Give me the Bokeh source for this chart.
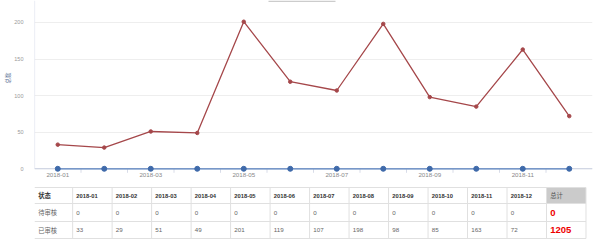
import math
from bokeh.plotting import figure
from bokeh.models import Range1d, FixedTicker, BoxAnnotation, Title
from bokeh.layouts import column
from bokeh.core.properties import value
from bokeh.embed import file_html
from bokeh.resources import INLINE

# ---------------- data ----------------
months = ["2018-01", "2018-02", "2018-03", "2018-04", "2018-05", "2018-06",
          "2018-07", "2018-08", "2018-09", "2018-10", "2018-11", "2018-12"]
pending = [0, 0, 0, 0, 0, 0, 0, 0, 0, 0, 0, 0]          # 待审核
approved = [33, 29, 51, 49, 201, 119, 107, 198, 98, 85, 163, 72]  # 已审核
y_ticks = [0, 50, 100, 150, 200]
status_header = "状态"
total_header = "总计"
row_names = ["待审核", "已审核"]
y_title = "总数"

CJK = "Noto Sans CJK SC"
LAT = "Liberation Sans"

# ---------------- chart ----------------
Y_MAX = 230
Y_MIN = -24.2   # room below the zero line for the category labels
idx = list(range(len(months)))
p = figure(width=600, height=186, x_range=Range1d(-0.5, len(months) - 0.5),
           y_range=Range1d(Y_MIN, Y_MAX), output_backend="svg", toolbar_location=None,
           min_border_left=34, min_border_right=8, min_border_top=0, min_border_bottom=0,
           x_axis_type=None)
p.outline_line_color = None
p.background_fill_color = "white"
p.border_fill_color = "white"

p.xgrid.visible = False
p.ygrid.ticker = FixedTicker(ticks=y_ticks)
p.ygrid.grid_line_color = "#eeeeee"
p.ygrid.grid_line_width = 1

p.yaxis.ticker = FixedTicker(ticks=y_ticks)
p.yaxis.axis_line_color = None
p.yaxis.major_tick_line_color = None
p.yaxis.minor_tick_line_color = None
p.yaxis.major_label_text_color = "#999999"
p.yaxis.major_label_text_font = LAT
p.yaxis.major_label_text_font_size = "5.5px"
p.yaxis.major_label_standoff = 5

p.add_layout(Title(text=y_title, align="left", offset=103, text_font=CJK,
                   text_font_size="5.5px", text_font_style="normal",
                   text_color="#5a6f94", standoff=0), "left")

x0 = -0.5
x1 = len(months) - 0.5
# y axis line (from zero to top)
p.segment(x0=[x0], x1=[x0], y0=[0], y1=[Y_MAX], line_color="#dde1ee", line_width=1.2)
# category axis: line, boundary ticks, labels
p.segment(x0=[x0], x1=[x1], y0=[0], y1=[0], line_color="#c8cfe0", line_width=1)
bounds = [i + 0.5 for i in idx[:-1]]
p.ray(x=bounds, y=[0] * len(bounds), length=4, length_units="screen",
      angle=-math.pi / 2, line_color="#d8dce8", line_width=1)
label_pos = idx[::2]
p.text(x=label_pos, y=[0] * len(label_pos), text=[months[i] for i in label_pos],
       y_offset=4, text_align="center", text_baseline="top",
       text_font=value(LAT), text_font_size=value("6.2px"), text_color="#888888")

red = "#a5474a"
blue = "#3f6aaa"
p.line(idx, pending, line_color="#5b83bf", line_width=1.3)
p.scatter(idx, pending, size=5, fill_color=blue, line_color=blue)
p.line(idx, approved, line_color=red, line_width=1.3)
p.scatter(idx, approved, size=3.5, fill_color=red, line_color=red)

p.add_layout(BoxAnnotation(left=234, right=301, top=186, bottom=184.5,
                           left_units="screen", right_units="screen",
                           top_units="screen", bottom_units="screen",
                           fill_color="#cccccc", fill_alpha=1, line_color=None))

# ---------------- table ----------------
t = figure(width=600, height=62, x_range=Range1d(0, 600), y_range=Range1d(62, 0),
           output_backend="svg", toolbar_location=None, x_axis_type=None, y_axis_type=None,
           min_border=0)
t.outline_line_color = None
t.grid.visible = False

first_w = 41
col_w = (593 - first_w) / (len(months) + 1)
edges = [0, first_w] + [first_w + col_w * (k + 1) for k in range(len(months) + 1)]
row_edges = [1, 17, 35, 52]
row_mid = [(row_edges[i] + row_edges[i + 1]) / 2 for i in range(3)]

t.quad(left=[edges[-2]], right=[edges[-1]], top=[row_edges[0]], bottom=[row_edges[1]],
       fill_color="#cbcbcb", line_color=None)
border = "#e0e0e0"
t.segment(x0=[edges[0]] * 4, x1=[edges[-1]] * 4, y0=row_edges, y1=row_edges,
          line_color=border, line_width=1)
t.segment(x0=edges[1:], x1=edges[1:], y0=[row_edges[0]] * (len(edges) - 1),
          y1=[row_edges[-1]] * (len(edges) - 1), line_color=border, line_width=1)

pad = 4
cell_x = [edges[i + 1] + pad for i in range(len(months))]
total_x = edges[-2] + pad

# header
t.text(x=[pad], y=[row_mid[0]], text=[status_header], text_font=value(CJK),
       text_font_size=value("6.3px"), text_font_style="bold", text_color="#333333",
       text_baseline="middle", text_align="left")
t.text(x=cell_x, y=[row_mid[0]] * len(months), text=months, text_font=value(LAT),
       text_font_size=value("5.8px"), text_font_style="bold", text_color="#333333",
       text_baseline="middle", text_align="left")
t.text(x=[total_x], y=[row_mid[0]], text=[total_header], text_font=value(CJK),
       text_font_size=value("6.3px"), text_color="#555555",
       text_baseline="middle", text_align="left")

# body rows
for r, (name, vals) in enumerate(zip(row_names, [pending, approved])):
    y = row_mid[r + 1]
    t.text(x=[pad], y=[y], text=[name], text_font=value(CJK),
           text_font_size=value("6.3px"), text_color="#666666",
           text_baseline="middle", text_align="left")
    t.text(x=cell_x, y=[y] * len(vals), text=[str(v) for v in vals], text_font=value(LAT),
           text_font_size=value("6.2px"), text_color="#666666",
           text_baseline="middle", text_align="left")
    t.text(x=[total_x], y=[y], text=[str(sum(vals))], text_font=value(LAT),
           text_font_size=value("9.5px"), text_font_style="bold", text_color="#ee0000",
           text_baseline="middle", text_align="left")

layout = column(p, t, spacing=0)
open("out.html", "w").write(file_html(layout, INLINE))
